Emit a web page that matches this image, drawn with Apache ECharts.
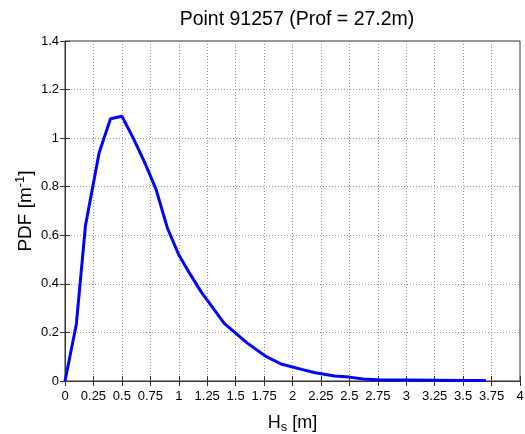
<!DOCTYPE html>
<html><head><meta charset="utf-8">
<script src="https://cdn.jsdelivr.net/npm/echarts@6/dist/echarts.min.js"></script>
<style>html,body{margin:0;padding:0;background:#fff}#c{width:525px;height:434px}</style>
</head><body><div id="c"></div>
<script>
const titleText = 'Point 91257 (Prof = 27.2m)';
const hs  = [0, 0.10, 0.18, 0.30, 0.40, 0.50, 0.60, 0.70, 0.80, 0.90, 1.00, 1.10, 1.20, 1.40, 1.60, 1.77, 1.90, 2.08, 2.20, 2.37, 2.50, 2.62, 2.75, 3.00, 3.25, 3.50, 3.70];
const pdf = [0, 0.235, 0.64, 0.94, 1.08, 1.09, 1.00, 0.90, 0.79, 0.63, 0.52, 0.44, 0.365, 0.237, 0.157, 0.10, 0.07, 0.048, 0.034, 0.021, 0.016, 0.008, 0.005, 0.004, 0.003, 0.002, 0.002];
const xTicks = [0,0.25,0.5,0.75,1,1.25,1.5,1.75,2,2.25,2.5,2.75,3,3.25,3.5,3.75,4];

const font = 'Liberation Sans, Arial, sans-serif';
const chart = echarts.init(document.getElementById('c'), null, {renderer:'canvas'});
const gridLine = {show:true, lineStyle:{color:'#999', type:[1,2], width:1}};
chart.setOption({
  animation:false,
  title:{text:titleText, left:292, top:5, textAlign:'center', textStyle:{fontFamily:font, fontSize:19.5, fontWeight:'normal', color:'#000'}},
  grid:{left:65, right:5, top:41, bottom:53, show:true, borderColor:'#333', borderWidth:1, containLabel:false, outerBoundsMode:'none'},
  xAxis:[{
    type:'value', min:0, max:4, interval:0.25,
    axisLine:{show:true, lineStyle:{color:'#333'}},
    axisTick:{inside:true, length:5, lineStyle:{color:'#333'}},
    axisLabel:{fontFamily:font, fontSize:13, color:'#000', margin:9},
    splitLine:gridLine,
    name:'{n|H}{s|s}{n| [m]}', nameLocation:'middle', nameGap:31,
    nameTextStyle:{rich:{n:{fontFamily:font, fontSize:18, color:'#000'}, s:{fontFamily:font, fontSize:13, color:'#000', verticalAlign:'bottom', padding:[9,0,0,0]}}}
  },{
    type:'value', min:0, max:4, interval:0.25, position:'top',
    axisLine:{show:false}, axisTick:{inside:true, length:5, lineStyle:{color:'#333'}},
    axisLabel:{show:false}, splitLine:{show:false}
  }],
  yAxis:[{
    type:'value', min:0, max:1.4, interval:0.2,
    axisLine:{show:true, lineStyle:{color:'#333'}},
    axisTick:{show:true, inside:true, length:5, lineStyle:{color:'#333'}},
    axisLabel:{fontFamily:font, fontSize:13, color:'#000', margin:6},
    splitLine:gridLine,
    name:'{n|PDF [m}{s|-1}{n|]}', nameLocation:'middle', nameGap:27, nameMoveOverlap:false,
    nameTextStyle:{rich:{n:{fontFamily:font, fontSize:19, color:'#000'}, s:{fontFamily:font, fontSize:13, color:'#000', verticalAlign:'top', padding:[0,0,11,0]}}}
  },{
    type:'value', min:0, max:1.4, interval:0.2, position:'right',
    axisLine:{show:false}, axisTick:{show:true, inside:true, length:5, lineStyle:{color:'#333'}},
    axisLabel:{show:false}, splitLine:{show:false}
  }],
  series:[{
    type:'line', xAxisIndex:0, yAxisIndex:0,
    data: hs.map((x,i)=>[x, pdf[i]]),
    showSymbol:false, symbol:'none',
    lineStyle:{color:'#0000ff', width:3}
  }]
});
</script></body></html>
